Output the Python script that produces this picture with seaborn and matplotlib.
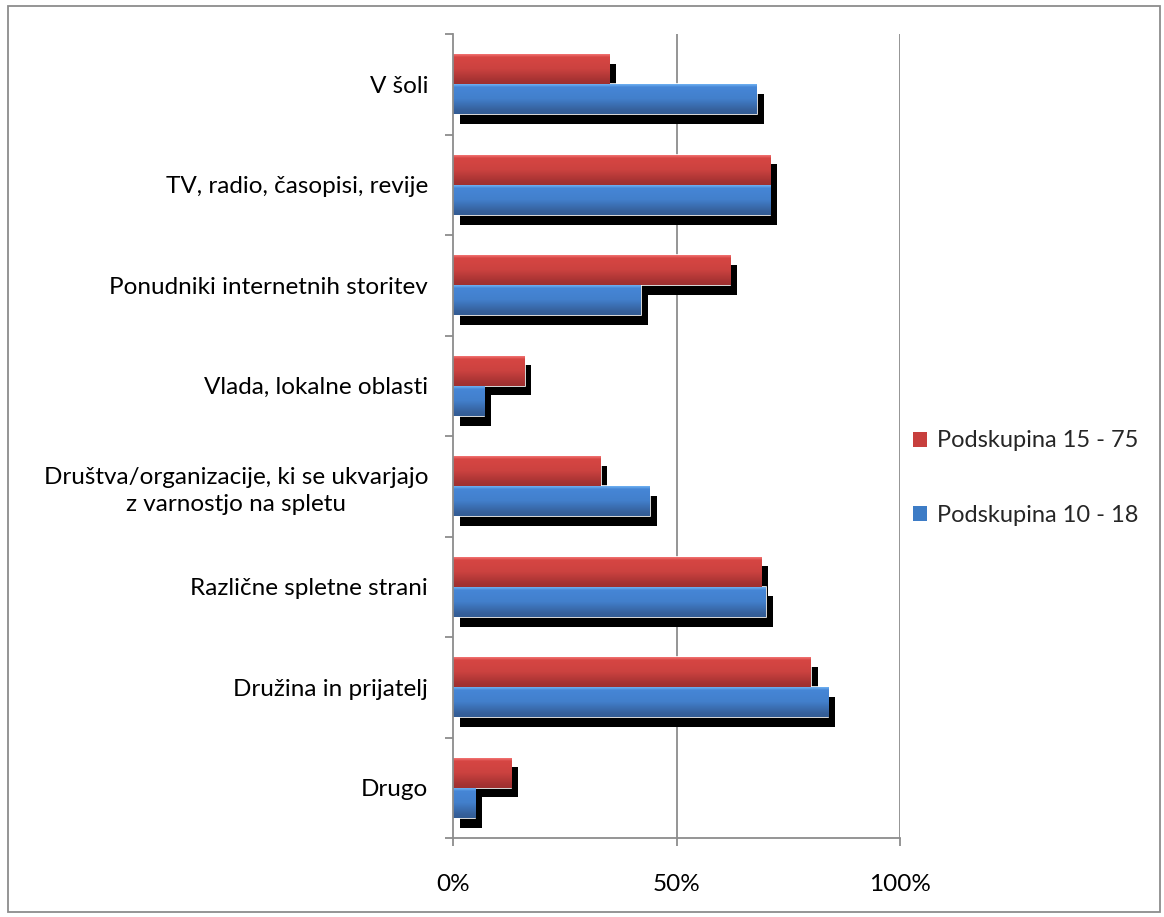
import numpy as np
import pandas as pd
import matplotlib
matplotlib.use("Agg")
import matplotlib.pyplot as plt
import matplotlib.patheffects as pe
from matplotlib.patches import Patch, Rectangle
from matplotlib.ticker import FuncFormatter, FixedLocator
import seaborn as sns

categories = [
    "V šoli",
    "TV, radio, časopisi, revije",
    "Ponudniki internetnih storitev",
    "Vlada, lokalne oblasti",
    "Društva/organizacije, ki se ukvarjajo\nz varnostjo na spletu",
    "Različne spletne strani",
    "Družina in prijatelj",
    "Drugo",
]
series_names = ["Podskupina 15 - 75", "Podskupina 10 - 18"]
values_15_75 = [35, 71, 62, 16, 33, 69, 80, 13]
values_10_18 = [68, 71, 42, 7, 44, 70, 84, 5]
x_ticks = [0, 50, 100]

colors = ["#C73F3D", "#3D7CC6"]
grad_cols = [
    [(0.98, 0.50, 0.50), (0.80, 0.26, 0.25), (0.62, 0.19, 0.19)],
    [(0.48, 0.74, 0.98), (0.26, 0.50, 0.80), (0.20, 0.36, 0.58)],
]

df = pd.DataFrame({
    "cat": categories * 2,
    "val": values_15_75 + values_10_18,
    "series": [series_names[0]] * len(categories) + [series_names[1]] * len(categories),
})

sns.set_theme(style="white")
plt.rcParams["font.family"] = ["Lato", "DejaVu Sans"]

FS = 17.5

fig = plt.figure(figsize=(11.64, 9.17), dpi=100)
ax = fig.add_axes([453 / 1164, 79 / 917, 447 / 1164, 804 / 917])

sns.barplot(data=df, x="val", y="cat", hue="series", hue_order=series_names,
            order=categories, palette=colors, width=0.6, orient="h", ax=ax,
            legend=False, edgecolor="white", linewidth=1.2, errorbar=None)

ax.set_xlim(0, 100)
ax.set_ylim(len(categories) - 0.5, -0.5)

# gradients + shadows
for patch in list(ax.patches):
    bb = patch.get_bbox()
    x0, x1 = bb.x0, bb.x1
    y0, y1 = min(bb.y0, bb.y1), max(bb.y0, bb.y1)
    fc = patch.get_facecolor()[:3]
    idx = 0 if abs(fc[0] - 0.78) < 0.1 else 1
    c = np.array(grad_cols[idx])
    t = np.linspace(0, 1, 40)
    col = np.empty((40, 1, 3))
    for k in range(3):
        col[:, 0, k] = np.interp(t, [0, 0.12, 0.5, 0.88, 1.0],
                                 [c[0, k], c[1, k] * 1.05, c[1, k], c[2, k] * 1.05, c[2, k]])
    col = np.clip(col, 0, 1)
    patch.set_path_effects([pe.SimplePatchShadow(offset=(5, -7), shadow_rgbFace="black", alpha=1.0),
                            pe.Normal()])
    im = ax.imshow(col, extent=(x0, x1, y1, y0), origin="upper", aspect="auto",
                   zorder=patch.get_zorder() + 0.01, interpolation="bilinear")
    im.set_clip_path(patch)

ax.set_xlim(0, 100)
ax.set_ylim(len(categories) - 0.5, -0.5)
ax.set_aspect("auto")

ax.set_xlabel("")
ax.set_ylabel("")
ax.xaxis.set_major_locator(FixedLocator(x_ticks))
ax.xaxis.set_major_formatter(FuncFormatter(lambda v, p: f"{int(v)}%"))
ax.set_yticks(range(len(categories)))
ax.set_yticklabels(categories, multialignment="center", linespacing=1.35)
ax.yaxis.set_minor_locator(FixedLocator(np.arange(-0.5, len(categories), 1.0)))

grid_col = "#8C8C8C"
for xv in x_ticks[1:]:
    ax.axvline(xv, color=grid_col, lw=1.3, zorder=0.5)

for side in ["top", "right"]:
    ax.spines[side].set_visible(False)
for side in ["left", "bottom"]:
    ax.spines[side].set_color(grid_col)
    ax.spines[side].set_linewidth(1.3)

ax.tick_params(axis="y", which="major", length=0, pad=18, labelsize=FS, labelcolor="black")
ax.tick_params(axis="y", which="minor", length=6, width=1.3, color=grid_col, left=True)
ax.tick_params(axis="x", which="major", length=6, width=1.3, color=grid_col, bottom=True,
               pad=20, labelsize=FS, labelcolor="black")

handles = [Patch(facecolor=colors[0], edgecolor="none"), Patch(facecolor=colors[1], edgecolor="none")]
leg = fig.legend(handles, series_names, loc="center left", bbox_to_anchor=(892 / 1164, 1 - 478 / 917),
                 frameon=False, fontsize=17, handlelength=0.6, handleheight=0.6,
                 handletextpad=0.4, labelspacing=2.25)

fig.patches.append(Rectangle((8 / 1164, 5 / 917), 1152 / 1164, 906 / 917, transform=fig.transFigure,
                             fill=False, edgecolor="#8C8C8C", lw=1.3))

fig.savefig("out.png", dpi=100, facecolor="white")
